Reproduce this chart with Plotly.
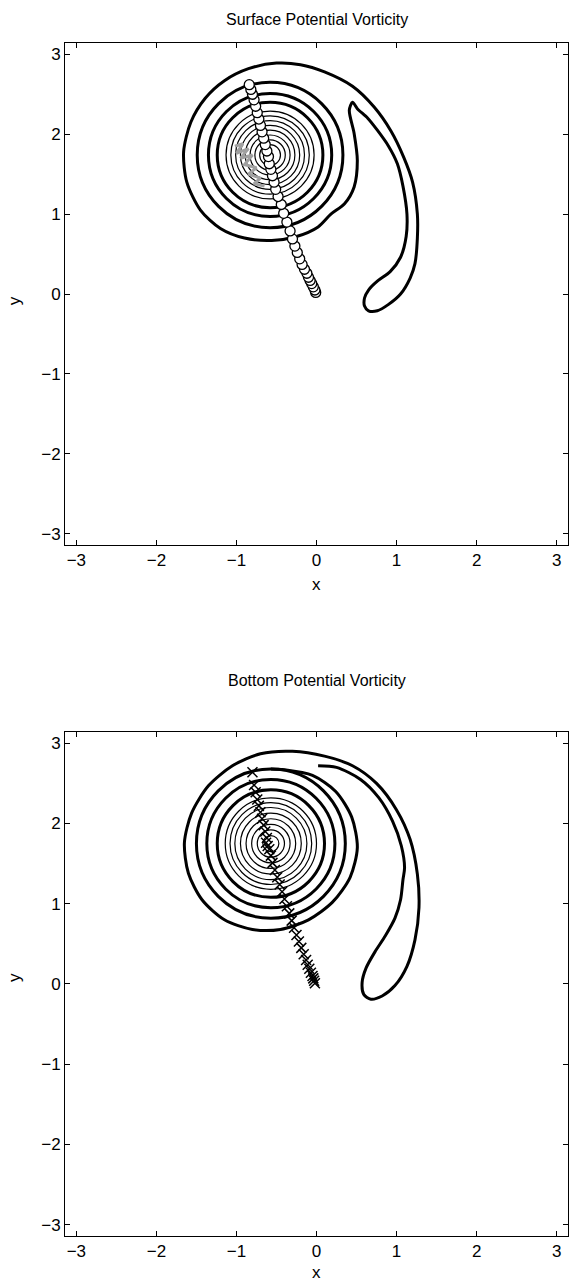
import plotly.graph_objects as go

# ring centre and radii (data units)
TOP_CENTER = (-0.58, 1.74)
TOP_THICK_R = [0.91, 0.77, 0.66]
TOP_THIN_R = [0.55, 0.49, 0.43, 0.37, 0.31, 0.25, 0.19, 0.13]
BOT_CENTER = (-0.57, 1.75)
BOT_THICK_R = [0.93, 0.80, 0.67]
BOT_THIN_R = [0.57, 0.51, 0.45, 0.38, 0.31, 0.24, 0.17, 0.10]

# outer contour with filament, surface
top_outer_x = [0.45, 0.51, 0.64, 0.76, 0.90, 1.01, 1.08, 1.13, 1.12, 1.05, 0.92, 0.76, 0.65, 0.60, 0.60,
               0.65, 0.76, 0.90, 1.05, 1.17, 1.23, 1.26, 1.26, 1.20, 1.09, 0.93, 0.72, 0.45, 0.10, -0.20,
               -0.50, -0.85, -1.15, -1.39, -1.57, -1.66, -1.62, -1.45, -1.20, -0.90, -0.56, -0.25, 0.02,
               0.18, 0.35, 0.47, 0.51, 0.47, 0.41, 0.45]
top_outer_y = [2.40, 2.32, 2.20, 2.05, 1.85, 1.63, 1.35, 1.00, 0.72, 0.46, 0.28, 0.16, 0.05, -0.05, -0.15,
               -0.21, -0.21, -0.13, 0.00, 0.20, 0.38, 0.70, 1.00, 1.40, 1.71, 2.04, 2.34, 2.60, 2.78, 2.87,
               2.89, 2.82, 2.67, 2.45, 2.15, 1.78, 1.40, 1.05, 0.82, 0.70, 0.67, 0.72, 0.84,
               1.00, 1.13, 1.34, 1.67, 2.01, 2.30, 2.40]

# outer contour with filament, bottom
bot_outer_x = [0.02, 0.25, 0.55, 0.78, 0.95, 1.06, 1.10, 1.08, 1.05, 0.98, 0.86, 0.73, 0.62, 0.57, 0.59,
               0.68, 0.82, 0.98, 1.13, 1.23, 1.28, 1.26, 1.17, 1.00, 0.75, 0.45, 0.10, -0.30, -0.70, -1.05,
               -1.35, -1.56, -1.65, -1.60, -1.43, -1.15, -0.80, -0.45, -0.10, 0.20, 0.42, 0.51, 0.44, 0.24,
               -0.05, -0.40, -0.57]
bot_outer_y = [2.72, 2.70, 2.55, 2.32, 2.03, 1.72, 1.45, 1.30, 1.05, 0.82, 0.60, 0.40, 0.20, 0.02, -0.13,
               -0.19, -0.15, -0.02, 0.22, 0.55, 0.95, 1.37, 1.80, 2.17, 2.50, 2.72, 2.84, 2.90, 2.87, 2.72,
               2.47, 2.13, 1.76, 1.38, 1.05, 0.80, 0.68, 0.68, 0.80, 1.02, 1.33, 1.70, 2.08, 2.40,
               2.60, 2.67, 2.68]

# grey trace near the surface vortex core
gray_x = [-1.02, -0.92, -1.00, -0.85, -0.95, -0.80, -0.90, -0.75, -0.85, -0.70, -0.78, -0.65]
gray_y = [1.85, 1.88, 1.76, 1.82, 1.70, 1.74, 1.62, 1.58, 1.50, 1.45, 1.38, 1.35]

# centre track, surface (circles)
track_top_x = [-0.01, -0.02, -0.04, -0.06, -0.08, -0.10, -0.12, -0.15, -0.18, -0.21, -0.24, -0.27, -0.30,
               -0.33, -0.37, -0.41, -0.44, -0.48, -0.51, -0.53, -0.55, -0.57, -0.59, -0.60, -0.62, -0.64,
               -0.66, -0.68, -0.70, -0.72, -0.74, -0.76, -0.78, -0.80, -0.82, -0.84]
track_top_y = [0.02, 0.05, 0.09, 0.13, 0.17, 0.21, 0.26, 0.31, 0.37, 0.44, 0.52, 0.60, 0.69,
               0.79, 0.90, 1.01, 1.12, 1.22, 1.31, 1.40, 1.48, 1.56, 1.63, 1.72, 1.79, 1.87,
               1.95, 2.03, 2.11, 2.19, 2.27, 2.35, 2.43, 2.50, 2.56, 2.62]

# centre track, bottom (crosses)
track_bot_x = [-0.02, -0.03, -0.04, -0.05, -0.07, -0.09, -0.11, -0.13, -0.16, -0.19, -0.22, -0.25, -0.28,
               -0.31, -0.34, -0.37, -0.40, -0.43, -0.46, -0.49, -0.52, -0.55, -0.57, -0.59, -0.61, -0.63,
               -0.62, -0.64, -0.66, -0.68, -0.70, -0.72, -0.74, -0.76, -0.78, -0.80]
track_bot_y = [0.01, 0.04, 0.07, 0.10, 0.14, 0.19, 0.24, 0.30, 0.37, 0.45, 0.53, 0.61, 0.70,
               0.79, 0.88, 0.97, 1.06, 1.15, 1.24, 1.33, 1.42, 1.51, 1.60, 1.68, 1.72, 1.76,
               1.82, 1.90, 1.98, 2.06, 2.14, 2.22, 2.30, 2.39, 2.48, 2.64]

tick_vals = [-3, -2, -1, 0, 1, 2, 3]
tick_text = ["\u22123", "\u22122", "\u22121", "0", "1", "2", "3"]
PI = 3.14159

fig = go.Figure()

fig.add_trace(go.Scatter(x=top_outer_x, y=top_outer_y, mode="lines",
                         line=dict(color="black", width=3, shape="spline", smoothing=0.8),
                         xaxis="x", yaxis="y"))
fig.add_trace(go.Scatter(x=gray_x, y=gray_y, mode="lines",
                         line=dict(color="#a0a0a0", width=3), xaxis="x", yaxis="y"))
fig.add_trace(go.Scatter(x=track_top_x, y=track_top_y, mode="markers",
                         marker=dict(symbol="circle", size=10, color="white",
                                     line=dict(color="black", width=1.3)),
                         xaxis="x", yaxis="y"))

fig.add_trace(go.Scatter(x=bot_outer_x, y=bot_outer_y, mode="lines",
                         line=dict(color="black", width=3, shape="spline", smoothing=0.8),
                         xaxis="x2", yaxis="y2"))
fig.add_trace(go.Scatter(x=track_bot_x, y=track_bot_y, mode="markers",
                         marker=dict(symbol="x-thin", size=10,
                                     line=dict(color="black", width=1.5)),
                         xaxis="x2", yaxis="y2"))

shapes = []
for (cx, cy), thick, thin, xr, yr in [(TOP_CENTER, TOP_THICK_R, TOP_THIN_R, "x", "y"),
                                      (BOT_CENTER, BOT_THICK_R, BOT_THIN_R, "x2", "y2")]:
    for r in thick:
        shapes.append(dict(type="circle", xref=xr, yref=yr, x0=cx - r, x1=cx + r,
                           y0=cy - r, y1=cy + r, line=dict(color="black", width=3), layer="below"))
    for r in thin:
        shapes.append(dict(type="circle", xref=xr, yref=yr, x0=cx - r, x1=cx + r,
                           y0=cy - r, y1=cy + r, line=dict(color="black", width=1.2), layer="below"))

axis_style = dict(range=[-PI, PI], tickvals=tick_vals, ticktext=tick_text, ticks="inside",
                  ticklen=5, tickwidth=1, tickcolor="black", showline=True, linecolor="black",
                  linewidth=1, mirror="allticks", showgrid=False, zeroline=False,
                  tickfont=dict(size=17, color="black"))

top_dom = [0.5792, 1.0]
bot_dom = [0.0, 0.4225]

fig.update_layout(
    width=569, height=1286,
    margin=dict(l=65, r=1, t=43, b=50),
    paper_bgcolor="white", plot_bgcolor="white",
    font=dict(family="Liberation Sans, Arial, sans-serif", color="black"),
    showlegend=False,
    shapes=shapes,
    xaxis=dict(axis_style, domain=[0, 1], anchor="y"),
    yaxis=dict(axis_style, domain=top_dom, anchor="x"),
    xaxis2=dict(axis_style, domain=[0, 1], anchor="y2"),
    yaxis2=dict(axis_style, domain=bot_dom, anchor="x2"),
    annotations=[
        dict(text="Surface Potential Vorticity", x=0.5, y=1.0193, xref="paper", yref="paper",
             showarrow=False, font=dict(size=16), yanchor="middle"),
        dict(text="Bottom Potential Vorticity", x=0.5, y=0.466, xref="paper", yref="paper",
             showarrow=False, font=dict(size=16), yanchor="middle"),
        dict(text="x", x=0.5, y=0.5465, xref="paper", yref="paper",
             showarrow=False, font=dict(size=17), yanchor="middle"),
        dict(text="x", x=0.5, y=-0.0305, xref="paper", yref="paper",
             showarrow=False, font=dict(size=17), yanchor="middle"),
        dict(text="y", x=-0.1, y=0.7896, xref="paper", yref="paper",
             showarrow=False, font=dict(size=17), textangle=-90, xanchor="center"),
        dict(text="y", x=-0.1, y=0.2113, xref="paper", yref="paper",
             showarrow=False, font=dict(size=17), textangle=-90, xanchor="center"),
    ],
)

fig.write_html("out.html", config={"displayModeBar": False},
               post_script="document.body.style.margin='0';document.body.style.overflow='hidden';")
